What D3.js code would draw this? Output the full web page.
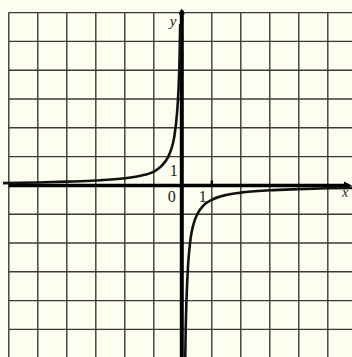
<!DOCTYPE html>
<html lang="en">
<head>
<meta charset="utf-8">
<title>Hyperbola</title>
<script src="https://d3js.org/d3.v7.min.js"></script>
<style>
  body { margin: 0; background: #fdfdf0; }
  svg { display: block; }
  .lbl { font-family: "Liberation Serif", serif; fill: #222; }
</style>
</head>
<body>
<div id="chart"></div>
<script>
// grid positions (units)
var gridX = [-6, -5, -4, -3, -2, -1, 1, 2, 3, 4, 5]
var gridY = [6, 5, 4, 3, 2, 1, -1, -2, -3, -4, -5]

// curve points
var leftX = [-6.2, -5, -4, -3, -2, -1.5, -1, -0.75, -0.5, -0.4, -0.3, -0.2, -0.15, -0.11, -0.09]
var leftY = [0.08, 0.1, 0.13, 0.17, 0.25, 0.33, 0.48, 0.66, 1.0, 1.25, 1.65, 2.5, 3.3, 4.5, 5.6]
var rightX = [0.085, 0.1, 0.13, 0.18, 0.25, 0.4, 0.5, 0.75, 1, 1.5, 2, 3, 4, 5, 5.9]
var rightY = [-6, -5, -3.9, -2.8, -2, -1.25, -1, -0.66, -0.5, -0.33, -0.25, -0.17, -0.13, -0.1, -0.085]

var w = 352
var h = 357

var x = d3.scaleLinear().domain([0, 1]).range([182.8, 211.8])
var y = d3.scaleLinear().domain([0, 1]).range([185.4, 156.6])

var svg = d3.select("#chart")
  .append("svg")
  .attr("width", w)
  .attr("height", h)

svg.append("rect")
  .attr("width", w)
  .attr("height", h)
  .attr("fill", "#fdfdf0")

var gTop = y(6)
var gLeft = x(-6)

// grid
svg.selectAll("line.gx")
  .data(gridX)
  .enter()
  .append("line")
  .attr("x1", function(d) { return x(d) })
  .attr("x2", function(d) { return x(d) })
  .attr("y1", gTop)
  .attr("y2", h)
  .attr("stroke", "#3a3a3a")
  .attr("stroke-width", 1.4)

svg.selectAll("line.gy")
  .data(gridY)
  .enter()
  .append("line")
  .attr("y1", function(d) { return y(d) })
  .attr("y2", function(d) { return y(d) })
  .attr("x1", gLeft)
  .attr("x2", w)
  .attr("stroke", "#3a3a3a")
  .attr("stroke-width", 1.4)

// axes
svg.append("line")
  .attr("x1", gLeft).attr("x2", w - 4)
  .attr("y1", y(0)).attr("y2", y(0))
  .attr("stroke", "#000").attr("stroke-width", 3.5)

svg.append("line")
  .attr("x1", x(0) - 1).attr("x2", x(0) - 1)
  .attr("y1", gTop - 2).attr("y2", h)
  .attr("stroke", "#000").attr("stroke-width", 4)

// arrow heads
svg.append("path")
  .attr("d", "M" + (w - 8) + "," + (y(0) - 4) + "L" + w + "," + y(0) + "L" + (w - 8) + "," + (y(0) + 4) + "Z")
  .attr("fill", "#000")
svg.append("path")
  .attr("d", "M" + (x(0) - 4) + "," + (gTop + 2) + "L" + (x(0) - 1) + "," + (gTop - 4) + "L" + (x(0) + 2) + "," + (gTop + 2) + "Z")
  .attr("fill", "#000")

// tick at x = 1
svg.append("line")
  .attr("x1", x(1)).attr("x2", x(1))
  .attr("y1", y(0) - 5).attr("y2", y(0))
  .attr("stroke", "#000").attr("stroke-width", 2.5)

// curve
var line = d3.line()
  .x(function(d) { return x(d[0]) })
  .y(function(d) { return y(d[1]) })
  .curve(d3.curveMonotoneX)

var leftPts = leftX.map(function(d, i) { return [d, leftY[i]] })
var rightPts = rightX.map(function(d, i) { return [d, rightY[i]] })

svg.append("path")
  .attr("d", line(leftPts))
  .attr("fill", "none").attr("stroke", "#111").attr("stroke-width", 2.6)

svg.append("path")
  .attr("d", line(rightPts))
  .attr("fill", "none").attr("stroke", "#111").attr("stroke-width", 2.6)

// labels
svg.append("text").attr("class", "lbl")
  .attr("x", x(0) - 13).attr("y", gTop + 13)
  .attr("font-size", 15).attr("font-style", "italic")
  .text("y")
svg.append("text").attr("class", "lbl")
  .attr("x", w - 10).attr("y", y(0) + 12)
  .attr("font-size", 14).attr("font-style", "italic")
  .text("x")
svg.append("text").attr("class", "lbl")
  .attr("x", x(0) - 15).attr("y", y(0) + 17)
  .attr("font-size", 16)
  .text("0")
svg.append("text").attr("class", "lbl")
  .attr("x", x(0) - 13).attr("y", y(1) + 19)
  .attr("font-size", 16)
  .text("1")
svg.append("text").attr("class", "lbl")
  .attr("x", x(1) - 13).attr("y", y(0) + 17)
  .attr("font-size", 16)
  .text("1")
</script>
</body>
</html>
